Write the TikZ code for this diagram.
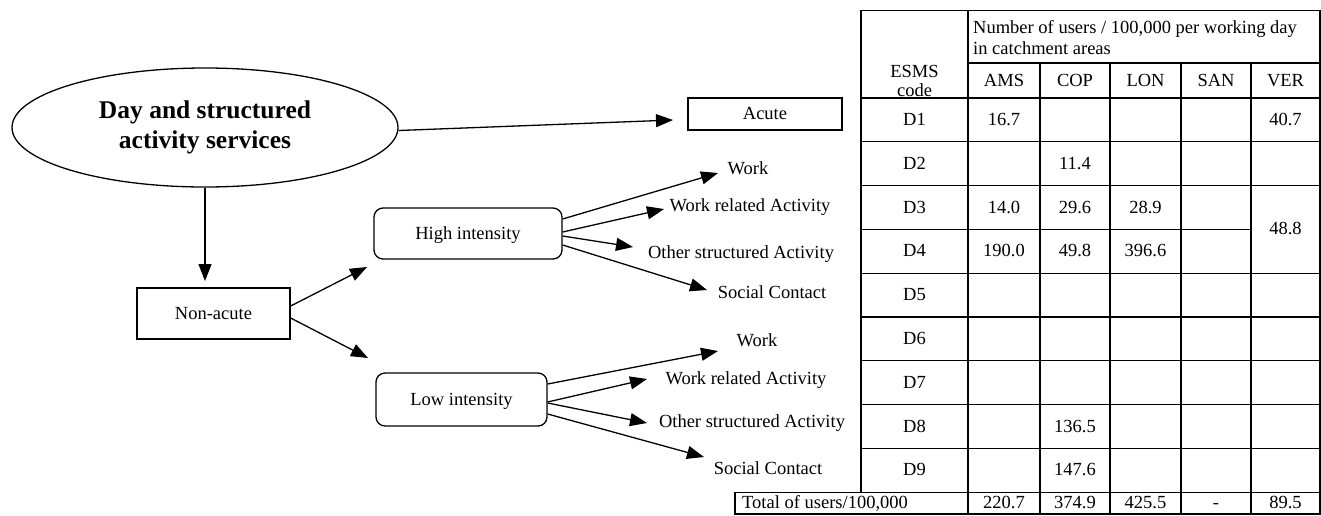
\documentclass[tikz,border=0pt]{standalone}
\usepackage{fontspec}
\setmainfont{Liberation Serif}
\usetikzlibrary{arrows.meta,calc,shapes.geometric}
\begin{document}
\begin{tikzpicture}[x=1pt,y=-1pt,
  every node/.style={font=\fontsize{18.5}{22}\selectfont, inner sep=0pt},
  txt/.style={text height=14pt, text depth=3pt},
  arr/.style={line width=1.3pt, -{Triangle[length=17pt,width=13pt]}},
  box/.style={draw, line width=1.3pt, rectangle, txt},
  rbox/.style={box, rounded corners=9pt},
  grid/.style={line width=1.2pt}
]
\useasboundingbox (0,0) rectangle (1321,515);

% ---------- diagram nodes ----------
\node[draw, ellipse, line width=1.3pt, minimum width=386pt, minimum height=119pt,
      align=center, font=\fontsize{25.5}{30}\selectfont\bfseries] (ell) at (205,127.5)
      {Day and structured\\activity services};
\node[box, minimum width=154pt, minimum height=32pt] (acute) at (765,114) {Acute};
\node[box, minimum width=153pt, minimum height=51pt] (non) at (213.5,313.5) {Non-acute};
\node[rbox, minimum width=188pt, minimum height=51pt] (hi) at (468,233.5) {High intensity};
\node[rbox, minimum width=171pt, minimum height=53pt] (lo) at (461.5,399.5) {Low intensity};

\node[txt] (hw)  at (748,169) {Work};
\node[txt] (hwr) at (750,206) {Work related Activity};
\node[txt] (hos) at (741,253) {Other structured Activity};
\node[txt] (hsc) at (772,293) {Social Contact};
\node[txt] (lw)  at (757,341) {Work};
\node[txt] (lwr) at (746,379) {Work related Activity};
\node[txt] (los) at (752,422) {Other structured Activity};
\node[txt] (lsc) at (768,469) {Social Contact};

% arrow tips (free ends)
\coordinate (tAcute) at (673,120);
\coordinate (tNon) at (205,281);
\coordinate (tHi) at (367,267);
\coordinate (tLo) at (368,358);
\coordinate (thw) at (718,173);
\coordinate (thwr) at (664,209);
\coordinate (thos) at (633,247);
\coordinate (thsc) at (707,290);
\coordinate (tlw) at (718,351);
\coordinate (tlwr) at (647,379);
\coordinate (tlos) at (647,423);
\coordinate (tlsc) at (704,457);

\draw[arr] ($(ell.east)+(0,3)$) -- (tAcute);
\draw[arr] (ell.south) -- (tNon);
\draw[arr] ($(non.east)+(0,-7.5)$) -- (tHi);
\draw[arr] ($(non.east)+(0,4.5)$) -- (tLo);

\draw[arr] ($(hi.east)+(0,-14.5)$) -- (thw);
\draw[arr] ($(hi.east)+(0,-1.5)$) -- (thwr);
\draw[arr] ($(hi.east)+(0,2.5)$) -- (thos);
\draw[arr] ($(hi.east)+(0,11.5)$) -- (thsc);

\draw[arr] ($(lo.east)+(0,-15.5)$) -- (tlw);
\draw[arr] ($(lo.east)+(0,2.5)$) -- (tlwr);
\draw[arr] ($(lo.east)+(0,3.5)$) -- (tlos);
\draw[arr] ($(lo.east)+(0,14.5)$) -- (tlsc);

% ---------- table ----------
\draw[grid] (861,10.7) rectangle (1320,492.2);
\draw[grid] (968,10.7) -- (968,492.2);
\foreach \x in {1040,1110,1181,1251} \draw[grid] (\x,63) -- (\x,492.2);
\draw[grid] (968,63) -- (1320,63);
\foreach \y in {98,141.8,185.6,273.2,317,360.8,404.6,448.4} \draw[grid] (861,\y) -- (1320,\y);
\draw[grid] (861,229.4) -- (1251,229.4);
\draw[grid] (735,492.2) rectangle (1320,514);
\foreach \x in {968,1040,1110,1181,1251} \draw[grid] (\x,492.2) -- (\x,514);

\node[anchor=west, align=left, font=\fontsize{18.5}{21}\selectfont] (hdr) at (973,37.5)
  {Number of users / 100,000 per working day\\in catchment areas};
\node[align=center, font=\fontsize{18.5}{19}\selectfont] (esms) at (914.5,81) {ESMS\\code};
\node[txt] (ams) at (1004,81) {AMS};
\node[txt] (cop) at (1075,81) {COP};
\node[txt] (lon) at (1145.5,81) {LON};
\node[txt] (san) at (1216,81) {SAN};
\node[txt] (ver) at (1285.5,81) {VER};

\node[txt] (d1) at (914.5,119.9) {D1};
\node[txt] (d2) at (914.5,163.7) {D2};
\node[txt] (d3) at (914.5,207.5) {D3};
\node[txt] (d4) at (914.5,251.3) {D4};
\node[txt] (d5) at (914.5,295.1) {D5};
\node[txt] (d6) at (914.5,338.9) {D6};
\node[txt] (d7) at (914.5,382.7) {D7};
\node[txt] (d8) at (914.5,426.5) {D8};
\node[txt] (d9) at (914.5,470.3) {D9};

\node[txt] (v1a) at (1004,119.9) {16.7};
\node[txt] (v1v) at (1285.5,119.9) {40.7};
\node[txt] (v2c) at (1075,163.7) {11.4};
\node[txt] (v3a) at (1004,207.5) {14.0};
\node[txt] (v3c) at (1075,207.5) {29.6};
\node[txt] (v3l) at (1145.5,207.5) {28.9};
\node[txt] (v4a) at (1004,251.3) {190.0};
\node[txt] (v4c) at (1075,251.3) {49.8};
\node[txt] (v4l) at (1145.5,251.3) {396.6};
\node[txt] (v34v) at (1285.5,229.4) {48.8};
\node[txt] (v8c) at (1075,426.5) {136.5};
\node[txt] (v9c) at (1075,470.3) {147.6};

\node[txt, anchor=west] (tot) at (742,503.1) {Total of users/100,000};
\node[txt] (ta) at (1004,503.1) {220.7};
\node[txt] (tc) at (1075,503.1) {374.9};
\node[txt] (tl) at (1145.5,503.1) {425.5};
\node[txt] (ts) at (1216,503.1) {-};
\node[txt] (tv) at (1285.5,503.1) {89.5};
\end{tikzpicture}
\end{document}
